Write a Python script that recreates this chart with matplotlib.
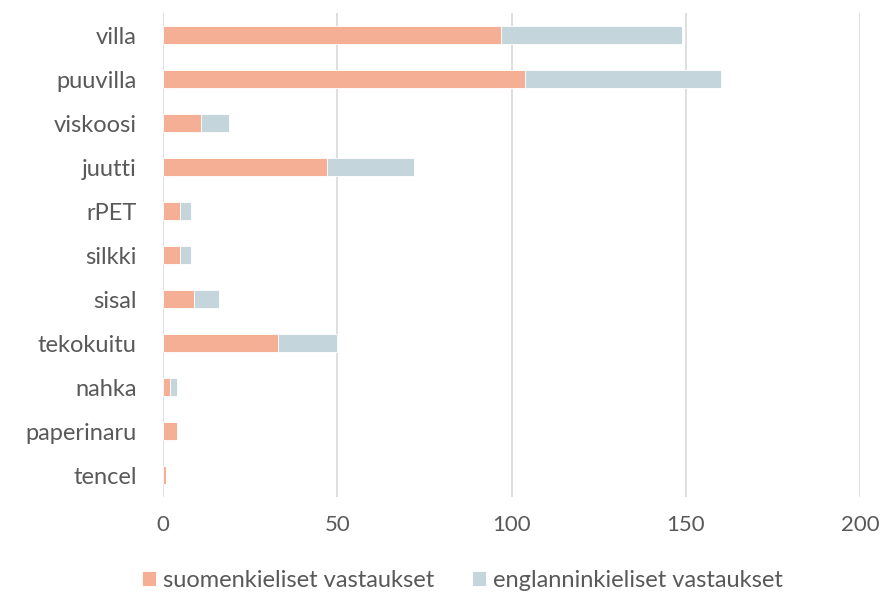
import numpy as np
import matplotlib.pyplot as plt

categories = ['villa', 'puuvilla', 'viskoosi', 'juutti', 'rPET', 'silkki',
              'sisal', 'tekokuitu', 'nahka', 'paperinaru', 'tencel']
finnish = [97, 104, 11, 47, 5, 5, 9, 33, 2, 4, 1]
english = [52, 56, 8, 25, 3, 3, 7, 17, 2, 0, 0]
xticks = [0, 50, 100, 150, 200]

plt.rcParams['font.family'] = ['Lato', 'DejaVu Sans']
text_col = '#595959'

fig = plt.figure(figsize=(8.84, 5.95), dpi=100)
ax = fig.add_axes([0.1844, 0.1647, 0.7885, 0.8133])

y = np.arange(len(categories))
ax.barh(y, finnish, height=0.4, color='#F4AF95', edgecolor='white',
        linewidth=0.6, label='suomenkieliset vastaukset', zorder=3)
ax.barh(y, english, left=finnish, height=0.4, color='#C5D5DC',
        edgecolor='white', linewidth=0.6, label='englanninkieliset vastaukset', zorder=3)

ax.set_xlim(0, 200)
ax.set_ylim(len(categories) - 0.5, -0.5)
ax.set_xticks(xticks)
ax.set_yticks(y)
ax.set_yticklabels(categories)
ax.grid(axis='x', color='#D9D9D9', linewidth=1.2, zorder=0)
for s in ax.spines.values():
    s.set_visible(False)
ax.tick_params(axis='x', length=0, labelsize=16, colors=text_col, pad=13)
ax.tick_params(axis='y', length=0, labelsize=17, colors=text_col, pad=19)

fig.legend(loc='center', bbox_to_anchor=(0.523, 0.025), ncol=2, frameon=False,
           fontsize=17, labelcolor=text_col, handlelength=0.6, handleheight=0.6,
           handletextpad=0.3, columnspacing=1.6)

fig.savefig('out.png', dpi=100)
